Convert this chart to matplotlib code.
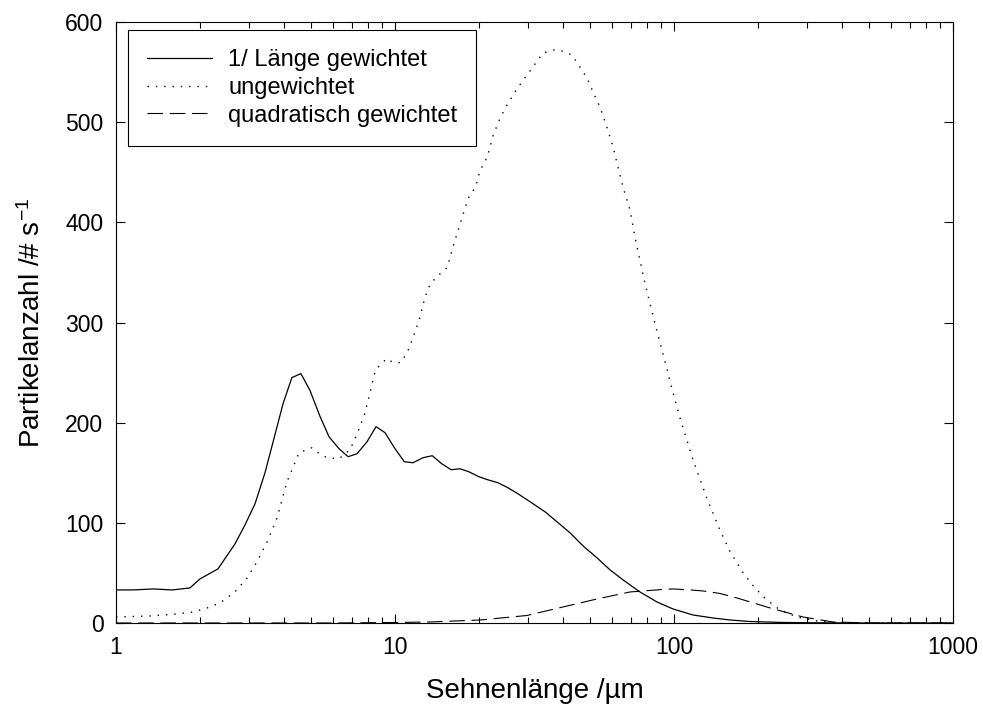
import matplotlib
matplotlib.use("Agg")
import matplotlib.pyplot as plt
from matplotlib.ticker import LogLocator, FixedLocator, FixedFormatter, NullFormatter, MultipleLocator

plt.rcParams['font.family'] = ['Liberation Sans', 'DejaVu Sans']
plt.rcParams['mathtext.fontset'] = 'custom'
plt.rcParams['mathtext.rm'] = 'Liberation Sans'
plt.rcParams['mathtext.it'] = 'Liberation Sans'

# --- data -------------------------------------------------------------
x_solid = [1.0, 1.15, 1.36, 1.59, 1.84, 2.0, 2.32, 2.67, 2.90, 3.15, 3.42, 3.65, 3.97,
           4.27, 4.60, 4.96, 5.39, 5.80, 6.30, 6.79, 7.31, 7.94, 8.55, 9.21, 10.0, 10.8,
           11.6, 12.6, 13.6, 14.7, 15.9, 17.1, 18.4, 20.0, 21.5, 23.4, 25.4, 27.6, 30.5,
           34.5, 38.1, 42.4, 47.2, 53.0, 59.0, 65.7, 75.5, 86.9, 99.2, 117, 138, 159, 187,
           240, 290, 400, 600, 1000]
y_solid = [33, 33, 34, 33, 35, 44, 54, 79, 98, 119, 150, 180, 219,
           245, 249, 232, 206, 186, 174, 166, 169, 181, 196, 190, 174, 161,
           160, 165, 167, 159, 153, 154, 151, 146, 143, 140, 135, 129, 121,
           111, 101, 90, 77, 65, 53, 43, 31, 21, 14, 8, 5, 3, 1.5,
           0.6, 0.3, 0.1, 0, 0]

x_dot = [1.0, 1.32, 1.65, 1.89, 2.12, 2.36, 2.67, 2.95, 3.20, 3.48,
         3.78, 4.10, 4.53, 5.04, 5.30, 5.70, 6.30, 6.90, 7.37, 7.81,
         8.14, 8.48, 8.84, 9.36, 9.84, 10.5, 11.1, 11.6, 12.2, 12.8,
         13.4, 14.3, 15.4, 16.0, 16.7, 17.4, 18.3, 19.4, 20.2, 21.4,
         22.5, 23.8, 25.2, 26.9, 28.8, 31.2, 33.9, 36.9, 39.7, 43.1,
         46.0, 48.8, 51.3, 54.3, 57.5, 60.5, 63.0, 65.7, 69.6, 72.5,
         75.5, 78.7, 82.0, 85.5, 89.1, 94.4, 99.2, 105, 117, 131,
         146, 159, 177, 195, 215, 240, 276, 326, 372, 500, 1000]
y_dot = [6, 7, 9, 11, 15, 20, 31, 45, 61, 81,
         105, 141, 170, 175, 170, 165, 164, 173, 191, 210,
         230, 251, 258, 264, 260, 260, 271, 285, 302, 325,
         339, 347, 355, 372, 389, 405, 424, 435, 452, 465,
         487, 504, 517, 530, 542, 555, 569, 572, 571, 567,
         555, 544, 530, 515, 495, 475, 455, 435, 412, 385,
         362, 339, 319, 299, 280, 253, 230, 205, 163, 125,
         93, 71, 50, 35, 23, 13, 6, 2, 0.5, 0, 0]

x_dash = [1.0, 5.8, 10, 13.3, 20.2, 29.7, 40.0, 53.0, 69.6, 91.3, 99.2, 114, 127,
          146, 168, 221, 290, 372, 504, 1000]
y_dash = [0, 0, 0.5, 1, 3, 7.5, 16, 24, 31, 33.5, 34, 33, 32,
          29.5, 25, 15, 6, 1, 0, 0]

labels = ["1/ Länge gewichtet", "ungewichtet", "quadratisch gewichtet"]
x_ticks = [1, 10, 100, 1000]
x_ticklabels = ["1", "10", "100", "1000"]

# --- figure -----------------------------------------------------------
fig = plt.figure(figsize=(9.83, 7.15), dpi=100)
ax = fig.add_axes([116/983, 1-623/715, (953-116)/983, (623-22)/715])

ax.plot(x_solid, y_solid, color='black', lw=0.9, ls='-', label=labels[0])
ax.plot(x_dot, y_dot, color='black', lw=1.0, ls=(0, (1, 5)), label=labels[1])
ax.plot(x_dash, y_dash, color='black', lw=0.8, ls=(0, (14, 6)), label=labels[2])

ax.set_xscale('log')
ax.set_xlim(1, 1000)
ax.set_ylim(0, 600)
ax.xaxis.set_major_locator(FixedLocator(x_ticks))
ax.xaxis.set_major_formatter(FixedFormatter(x_ticklabels))
ax.xaxis.set_minor_locator(LogLocator(base=10, subs=range(2, 10)))
ax.xaxis.set_minor_formatter(NullFormatter())
ax.yaxis.set_major_locator(MultipleLocator(100))

ax.tick_params(which='both', direction='in', top=True, right=True, width=0.8,
               labelsize=16.5, colors='black')
ax.tick_params(which='major', length=6.5, pad=9)
ax.tick_params(which='minor', length=4)
for s in ax.spines.values():
    s.set_linewidth(0.8)

ax.set_xlabel("Sehnenlänge /µm", fontsize=20, labelpad=14)
ax.set_ylabel(r"Partikelanzahl /# s$^{\mathregular{-1}}$", fontsize=20, labelpad=14)

leg = ax.legend(loc='upper left', bbox_to_anchor=(0.0143, 0.9867), borderaxespad=0,
                fontsize=17, frameon=True, fancybox=False, edgecolor='black',
                framealpha=1, handlelength=2.75, handletextpad=0.7, labelspacing=0.25,
                borderpad=0.8)
leg.get_frame().set_linewidth(0.8)

fig.savefig("out.png", dpi=100)
